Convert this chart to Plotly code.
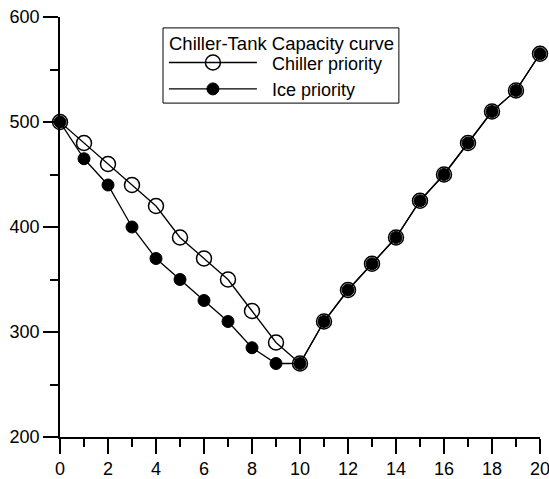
import plotly.graph_objects as go

x_vals = list(range(0, 21))
chiller_priority = [500, 480, 460, 440, 420, 390, 370, 350, 320, 290, 270,
                    310, 340, 365, 390, 425, 450, 480, 510, 530, 565]
ice_priority = [500, 465, 440, 400, 370, 350, 330, 310, 285, 270, 270,
                310, 340, 365, 390, 425, 450, 480, 510, 530, 565]
x_ticks = list(range(0, 21, 2))
y_ticks = [200, 300, 400, 500, 600]
legend_title = "Chiller-Tank Capacity curve"
series_names = ["Chiller priority", "Ice priority"]

FONT = "Liberation Sans, Arial, sans-serif"
PAD = "\u00a0\u00a0"

fig = go.Figure()
fig.add_trace(go.Scatter(
    x=x_vals, y=chiller_priority, mode="lines+markers", name=PAD + series_names[0],
    line=dict(color="black", width=1.3),
    marker=dict(symbol="circle-open", size=15, color="black", line=dict(width=1.5, color="black")),
    cliponaxis=False,
))
fig.add_trace(go.Scatter(
    x=x_vals, y=ice_priority, mode="lines+markers", name=PAD + series_names[1],
    line=dict(color="black", width=1.3),
    marker=dict(symbol="circle", size=12, color="black", line=dict(width=1, color="black")),
    cliponaxis=False,
))

axis_common = dict(
    showgrid=False, zeroline=False, showline=True, linecolor="black", linewidth=1.5,
    ticks="outside", ticklen=15, tickwidth=1.5, tickcolor="black",
    tickfont=dict(family=FONT, size=18, color="black"),
    layer="below traces", automargin=False, ticklabeloverflow="allow",
)
fig.update_xaxes(range=[0, 20], tickvals=x_ticks,
                 minor=dict(ticks="outside", ticklen=8, tickwidth=1.5, tickcolor="black", dtick=1, showgrid=False),
                 **axis_common)
fig.update_yaxes(range=[200, 600], tickvals=y_ticks,
                 minor=dict(ticks="outside", ticklen=8, tickwidth=1.5, tickcolor="black", dtick=50, showgrid=False),
                 **axis_common)

# legend frame and heading
fig.add_shape(type="rect", xref="paper", yref="paper",
              x0=0.2146, x1=0.706, y0=0.795, y1=0.974,
              line=dict(color="black", width=1), fillcolor="white", layer="below")
fig.add_annotation(xref="paper", yref="paper", x=0.2244, y=0.936,
                   xanchor="left", yanchor="middle", text=legend_title, showarrow=False,
                   borderpad=0, font=dict(family=FONT, size=18.5, color="black"))

fig.update_layout(
    width=549, height=479,
    margin=dict(l=60, r=9, t=17, b=42, autoexpand=False),
    paper_bgcolor="white", plot_bgcolor="white",
    font=dict(family=FONT, size=18, color="black"),
    showlegend=True,
    legend=dict(
        x=0.2165, y=0.935, xanchor="left", yanchor="top",
        bgcolor="rgba(0,0,0,0)", borderwidth=0,
        font=dict(family=FONT, size=18),
        itemwidth=88, tracegroupgap=0,
    ),
)

# remove the default page margin so the figure fills the window exactly
fig.write_html("out.html", config={"displayModeBar": False},
               post_script="document.body.style.margin='0';document.body.style.overflow='hidden';")
